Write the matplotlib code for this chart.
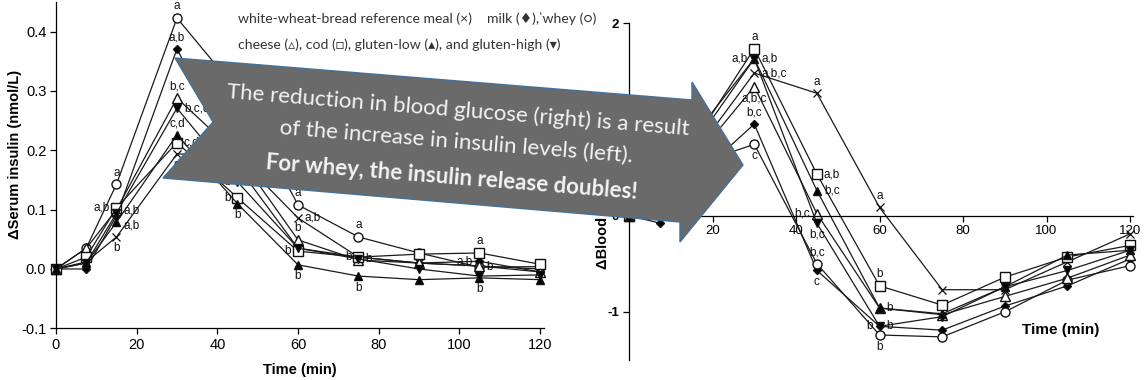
import matplotlib
matplotlib.use('Agg')
import matplotlib.pyplot as plt
from matplotlib.patches import Polygon

W, H = 1144, 380

times = [0, 7.5, 15, 30, 45, 60, 75, 90, 105, 120]
meals = ['bread', 'milk', 'whey', 'cheese', 'cod', 'low', 'high']

# serum insulin (nmol/L), change from baseline
insulin_bread = [0, 0.012, 0.054, 0.194, 0.190, 0.086, 0.020, 0.010, 0.005, 0.000]
insulin_milk = [0, 0.000, 0.090, 0.371, 0.173, 0.035, 0.020, 0.010, 0.013, -0.005]
insulin_whey = [0, 0.035, 0.143, 0.423, 0.300, 0.108, 0.054, 0.027, 0.003, 0.004]
insulin_cheese = [0, 0.035, 0.100, 0.288, 0.193, 0.049, 0.015, 0.010, 0.005, -0.005]
insulin_cod = [0, 0.020, 0.103, 0.213, 0.120, 0.030, 0.020, 0.025, 0.027, 0.008]
insulin_low = [0, 0.010, 0.079, 0.226, 0.110, 0.007, -0.012, -0.018, -0.015, -0.018]
insulin_high = [0, 0.010, 0.094, 0.271, 0.147, 0.035, 0.017, 0.000, -0.012, -0.010]

# blood glucose (mmol/L), change from baseline
glucose_bread = [0, 0.10, 0.60, 1.48, 1.27, 0.085, -0.77, -0.77, -0.48, -0.19]
glucose_milk = [0, -0.08, 0.36, 0.95, -0.57, -1.15, -1.19, -0.94, -0.73, -0.45]
glucose_whey = [0, 0.05, 0.52, 0.74, -0.50, -1.24, -1.26, -1.00, -0.67, -0.52]
glucose_cheese = [0, 0.10, 0.55, 1.34, 0.02, -0.96, -1.03, -0.84, -0.65, -0.41]
glucose_cod = [0, 0.20, 0.73, 1.735, 0.43, -0.73, -0.93, -0.64, -0.43, -0.31]
glucose_low = [0, 0.13, 0.80, 1.63, 0.26, -0.96, -1.02, -0.74, -0.41, -0.36]
glucose_high = [0, 0.12, 0.70, 1.63, -0.08, -1.15, -1.05, -0.74, -0.57, -0.36]

insulin = dict(zip(meals, [insulin_bread, insulin_milk, insulin_whey, insulin_cheese,
                           insulin_cod, insulin_low, insulin_high]))
glucose = dict(zip(meals, [glucose_bread, glucose_milk, glucose_whey, glucose_cheese,
                           glucose_cod, glucose_low, glucose_high]))

# significance letters: (meal, time, letters, side)
insulin_letters = [
    ('whey', 15, 'a', 'above'), ('cod', 15, 'a,b', 'left'), ('high', 15, 'a,b', 'upright'),
    ('low', 15, 'a,b', 'downright'), ('bread', 15, 'b', 'below'),
    ('whey', 30, 'a', 'above'), ('milk', 30, 'a,b', 'above'), ('cheese', 30, 'b,c', 'above'),
    ('high', 30, 'b,c,d', 'right'), ('low', 30, 'c,d', 'above'), ('cod', 30, 'c,d', 'right'),
    ('bread', 30, 'd', 'below'),
    ('whey', 45, 'a', 'above'), ('cheese', 45, 'b', 'above'), ('milk', 45, 'b', 'left'),
    ('high', 45, 'b', 'left'), ('cod', 45, 'b', 'left'), ('low', 45, 'b', 'below'),
    ('whey', 60, 'a', 'above'), ('bread', 60, 'a,b', 'right'), ('cheese', 60, 'b', 'above'),
    ('cod', 60, 'b', 'left'), ('low', 60, 'b', 'below'),
    ('whey', 75, 'a', 'above'), ('high', 75, 'b', 'right'), ('milk', 75, 'b', 'left'),
    ('low', 75, 'b', 'below'),
    ('cod', 105, 'a', 'above'), ('milk', 105, 'a,b', 'left'), ('whey', 105, 'b', 'right'),
    ('low', 105, 'b', 'below'),
]
glucose_letters = [
    ('cod', 30, 'a', 'above'), ('low', 30, 'a,b', 'left'), ('high', 30, 'a,b', 'right'),
    ('bread', 30, 'a,b,c', 'right'), ('cheese', 30, 'a,b,c', 'below'),
    ('milk', 30, 'b,c', 'above'), ('whey', 30, 'c', 'below'),
    ('bread', 45, 'a', 'above'), ('cod', 45, 'a,b', 'right'), ('low', 45, 'b,c', 'right'),
    ('cheese', 45, 'b,c', 'left'), ('high', 45, 'b,c', 'below'), ('whey', 45, 'b,c', 'above'),
    ('milk', 45, 'c', 'below'),
    ('bread', 60, 'a', 'above'), ('cod', 60, 'b', 'above'), ('low', 60, 'b', 'right'),
    ('high', 60, 'b', 'right'), ('milk', 60, 'b', 'left'), ('whey', 60, 'b', 'below'),
]

legend_line1a = 'white-wheat-bread reference meal (×)'
legend_line1b = 'milk (♦),ˈwhey (○)'
legend_line2 = 'cheese (▵), cod (□), gluten-low (▴), and gluten-high (▾)'
msg_lines = ['The reduction in blood glucose (right) is a result',
             'of the increase in insulin levels (left).',
             'For whey, the insulin release doubles!']

plt.rcParams['font.family'] = ['Liberation Sans', 'DejaVu Sans']
plt.rcParams['axes.unicode_minus'] = False

markers = {
    'bread': dict(marker='x', mfc='none', ms=6, mew=0.9),
    'milk': dict(marker='D', mfc='k', ms=4),
    'whey': dict(marker='o', mfc='white', ms=6.5),
    'cheese': dict(marker='^', mfc='white', ms=7),
    'cod': dict(marker='s', mfc='white', ms=6.5),
    'low': dict(marker='^', mfc='k', ms=5.5),
    'high': dict(marker='v', mfc='k', ms=5.5),
}
offsets = {'above': ((0, 4), 'center', 'bottom'), 'below': ((0, -4), 'center', 'top'),
           'left': ((-5, 0), 'right', 'center'), 'right': ((5, 0), 'left', 'center'),
           'upright': ((5, 2), 'left', 'center'), 'downright': ((5, -2.5), 'left', 'center')}

fig = plt.figure(figsize=(W / 100, H / 100), dpi=100)
fig.patch.set_facecolor('white')


def px_axes(left, top, right, bottom):
    return fig.add_axes([left / W, 1 - bottom / H, (right - left) / W, (bottom - top) / H])


def draw_panel(ax, data, letters):
    for m in meals:
        ax.plot(times, data[m], color='#1a1a1a', lw=0.9, mec='#111111', clip_on=False,
                **markers[m])
    for m, t, txt, side in letters:
        (dx, dy), ha, va = offsets[side]
        ax.annotate(txt, (t, data[m][times.index(t)]), xytext=(dx, dy),
                    textcoords='offset points', ha=ha, va=va, fontsize=8.5, color='#111111')
    for s in ['top', 'right']:
        ax.spines[s].set_visible(False)
    for s in ['left', 'bottom']:
        ax.spines[s].set_linewidth(0.9)
    ax.set_facecolor('none')


# left panel: insulin
ax1 = px_axes(56, 2, 544, 328.3)
draw_panel(ax1, insulin, insulin_letters)
ax1.set_xlim(0, 121)
ax1.set_ylim(-0.1, 0.45)
ax1.set_xticks([0, 20, 40, 60, 80, 100, 120])
ax1.set_yticks([-0.1, 0.0, 0.1, 0.2, 0.3, 0.4])
ax1.set_yticklabels(['-0.1', '0.0', '0.1', '0.2', '0.3', '0.4'])
ax1.tick_params(direction='out', length=4, width=0.9, labelsize=10.5, pad=3)
fig.text(15 / W, 1 - 154 / H, 'ΔSerum insulin (nmol/L)', rotation=90, ha='center',
         va='center', fontsize=10.5, fontweight='bold')
fig.text(300 / W, 1 - 370 / H, 'Time (min)', ha='center', va='center',
         fontsize=10.5, fontweight='bold')

# right panel: glucose
ax2 = px_axes(629, 23, 1133, 360)
draw_panel(ax2, glucose, glucose_letters)
ax2.set_xlim(0, 120.7)
ax2.set_ylim(-1.5, 2)
ax2.spines['bottom'].set_position(('data', 0))
ax2.set_xticks([20, 40, 60, 80, 100, 120])
ax2.set_yticks([-1, 0, 1, 2])
ax2.tick_params(direction='out', length=4, width=0.9, labelsize=9.5, pad=3)
for lab in ax2.get_yticklabels():
    lab.set_fontweight('bold')
fig.text(603 / W, 1 - 180 / H, 'ΔBlood glucose (mmol/L)', rotation=90, ha='center',
         va='center', fontsize=10.5, fontweight='bold')
fig.text(1061 / W, 1 - 330 / H, 'Time (min)', ha='center', va='center',
         fontsize=11, fontweight='bold')

# overlaid arrow with message
arrow_px = [(175, 58), (692, 100), (692, 82), (743, 165), (680, 242), (680, 222),
            (163, 178), (213, 122)]
fig.add_artist(Polygon([(x / W, 1 - y / H) for x, y in arrow_px], closed=True,
                       transform=fig.transFigure, facecolor='#6a6a6a',
                       edgecolor='#41719c', lw=1.0, zorder=5))

renderer = fig.canvas.get_renderer()


def fit_size(text, target_px, **kw):
    t = fig.text(0, 0, text, fontsize=10, **kw)
    w = t.get_window_extent(renderer=renderer).width
    t.remove()
    return 10 * target_px / w


over_font = ['Lato', 'DejaVu Sans']
msg_size = fit_size(msg_lines[0], 464, family=over_font)
msg_pos = [(458, 110), (456, 142), (452, 177)]
for i, (line, (x, y)) in enumerate(zip(msg_lines, msg_pos)):
    fig.text(x / W, 1 - y / H, line, ha='center', va='center', rotation=-4.6,
             rotation_mode='anchor', family=over_font, fontsize=msg_size,
             fontweight='bold' if i == 2 else 'normal', color='#f4f4f4', zorder=6)

leg_size = fit_size(legend_line1a, 234, family=over_font)
fig.text(238 / W, 1 - 19 / H, legend_line1a, ha='left', va='center', family=over_font,
         fontsize=leg_size, color='#333333', zorder=6)
fig.text(487 / W, 1 - 19 / H, legend_line1b, ha='left', va='center', family=over_font,
         fontsize=leg_size, color='#333333', zorder=6)
fig.text(238 / W, 1 - 45 / H, legend_line2, ha='left', va='center', family=over_font,
         fontsize=leg_size, color='#333333', zorder=6)

fig.savefig('out.png', dpi=100, facecolor='white')
